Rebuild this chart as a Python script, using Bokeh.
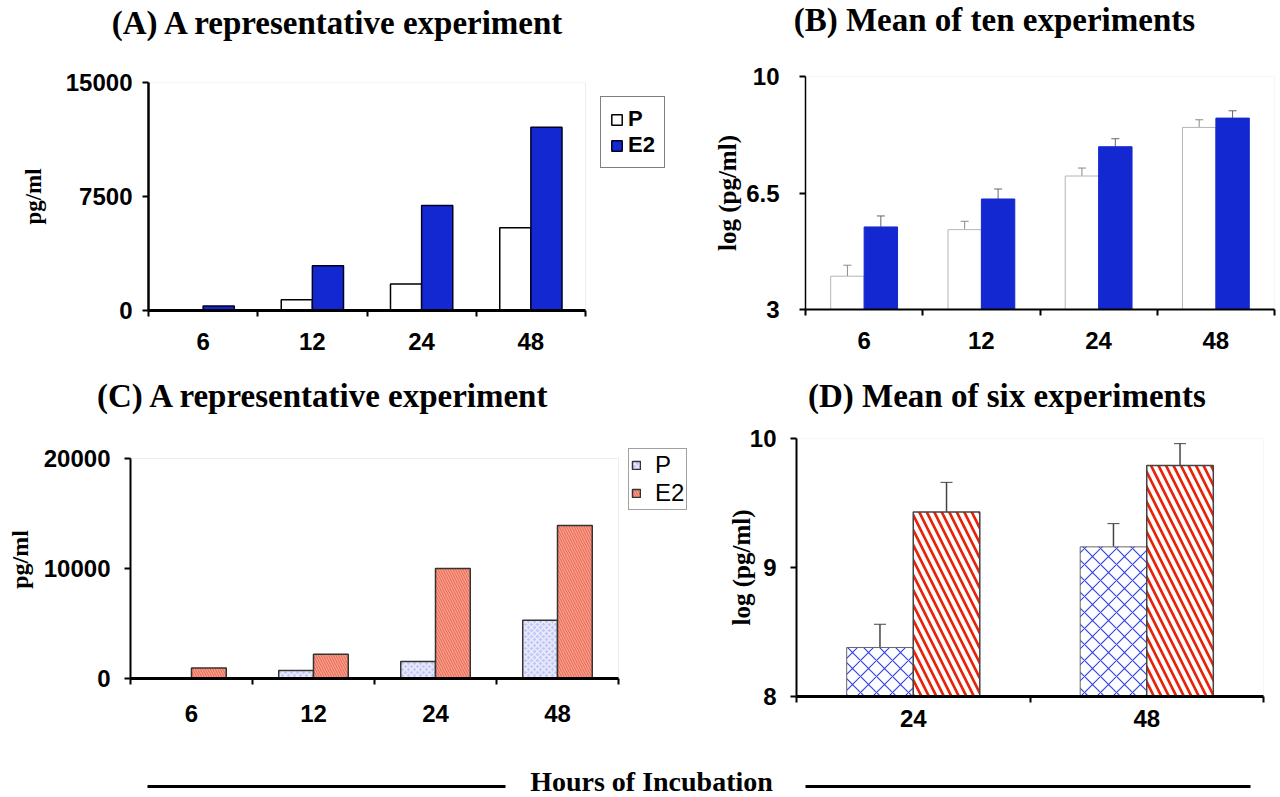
import numpy as np
from bokeh.plotting import figure
from bokeh.models import (Range1d, FixedTicker, CustomJSTickFormatter, Legend, LegendItem,
                          Label, Whisker, TeeHead, ColumnDataSource, BoxAnnotation)
from bokeh.layouts import row, column
from bokeh.embed import file_html
from bokeh.resources import INLINE

# ---------------- data ----------------
hours = ["6", "12", "24", "48"]
a_p = [0, 700, 1750, 5450]
a_e2 = [300, 2950, 6900, 12050]

b_p = [4.00, 5.40, 7.01, 8.47]
b_p_err = [0.33, 0.25, 0.24, 0.23]
b_e2 = [5.48, 6.32, 7.89, 8.75]
b_e2_err = [0.33, 0.30, 0.24, 0.22]

c_p = [0, 730, 1550, 5300]
c_e2 = [950, 2200, 10000, 13900]

d_hours = ["24", "48"]
d_p = [8.38, 9.16]
d_p_err = [0.18, 0.18]
d_e2 = [9.43, 9.79]
d_e2_err = [0.23, 0.17]

a_ticks = [0, 7500, 15000]
b_ticks = [3, 6.5, 10]
c_ticks = [0, 10000, 20000]
d_ticks = [8, 9, 10]

series = ["P", "E2"]
titles = ["(A)  A representative experiment", "(B)  Mean of ten experiments",
          "(C) A representative experiment", "(D)  Mean of six experiments"]
x_caption = "Hours of Incubation"

SANS = "Liberation Sans"
SERIF = "Liberation Serif"
BAR_W = 0.285
BLUE = "#1428d2"


def make_panel(width, height, left, right, top, bottom, cats, y0, y1, yticks,
               y_w, x_w, y_standoff, x_standoff, ylabel, ylabel_size, ylabel_standoff,
               box_right=None, box_top=None):
    """box_right / box_top: pixel edges of the drawn plot box when the frame is
    made larger than the box (room for a legend inside the frame)."""
    n = len(cats)
    frame_l, frame_r = left, width - right
    frame_t, frame_b = top, height - bottom
    x_end = n
    if box_right is not None:
        x_end = n * (frame_r - frame_l) / (box_right - frame_l)
    y_end = y1
    if box_top is not None:
        y_end = y0 + (y1 - y0) * (frame_b - frame_t) / (frame_b - box_top)
    p = figure(width=width, height=height, x_range=Range1d(0, x_end),
               y_range=Range1d(y0, y_end),
               toolbar_location=None, output_backend="svg",
               min_border_left=left, min_border_right=right,
               min_border_top=top, min_border_bottom=bottom)
    p.frame_align = False
    p.grid.visible = False
    p.outline_line_color = None
    p.add_layout(BoxAnnotation(left=0, right=n, bottom=y0, top=y1, fill_color=None,
                               fill_alpha=0, line_color="#c4c4c4", line_width=1,
                               level="underlay"))
    centers = [i + 0.5 for i in range(n)]
    bounds = list(range(n + 1))
    xa = p.xaxis[0]
    xa.bounds = (0, n)
    xa.ticker = FixedTicker(ticks=centers, minor_ticks=bounds)
    xa.formatter = CustomJSTickFormatter(args=dict(labels=cats),
                                         code="return labels[Math.floor(tick)];")
    xa.major_tick_out = 0
    xa.major_tick_in = 0
    xa.minor_tick_out = 6
    xa.minor_tick_in = 0
    xa.minor_tick_line_color = "black"
    xa.minor_tick_line_width = 2
    xa.axis_line_width = x_w
    xa.axis_line_color = "black"
    xa.major_label_standoff = x_standoff
    ya = p.yaxis[0]
    ya.bounds = (y0, y1)
    ya.ticker = FixedTicker(ticks=yticks)
    ya.formatter = CustomJSTickFormatter(code="return tick.toString();")
    ya.minor_tick_line_color = None
    ya.major_tick_out = 6
    ya.major_tick_in = 0
    ya.major_tick_line_width = 2
    ya.major_tick_line_color = "black"
    ya.axis_line_width = y_w
    ya.axis_line_color = "black"
    ya.major_label_standoff = y_standoff
    ya.axis_label = ylabel
    ya.axis_label_text_font = SERIF
    ya.axis_label_text_font_style = "bold"
    ya.axis_label_text_font_size = ylabel_size
    ya.axis_label_text_color = "black"
    ya.axis_label_standoff = ylabel_standoff
    for ax in (xa, ya):
        ax.major_label_text_font = SANS
        ax.major_label_text_font_style = "bold"
        ax.major_label_text_font_size = "24px"
        ax.major_label_text_color = "black"
    return p


def text_strip(height, items, size):
    """A full-width strip whose frame is the whole strip, for titles / captions."""
    s = figure(width=1280, height=height, x_range=Range1d(0, 1280), y_range=Range1d(0, height),
               toolbar_location=None, output_backend="svg", min_border=0,
               x_axis_location=None, y_axis_location=None)
    s.frame_align = False
    s.grid.visible = False
    s.outline_line_color = None
    for x, y, t in items:
        s.add_layout(Label(x=x, y=y, text=t, text_font=SERIF, text_font_style="bold",
                           text_font_size=size, text_align="center",
                           text_baseline="middle", text_color="black"))
    return s


def sources(vals_p, vals_e, err_p=None, err_e=None):
    idx = np.arange(len(vals_p))
    d = dict(xp=idx + 0.5 - BAR_W / 2, xe=idx + 0.5 + BAR_W / 2,
             p=vals_p, e=vals_e)
    if err_p is not None:
        d["p_up"] = np.array(vals_p) + np.array(err_p)
        d["e_up"] = np.array(vals_e) + np.array(err_e)
    return ColumnDataSource(d)


# ---------------- titles ----------------
T1, T2 = 44, 50
title_row1 = text_strip(T1, [(342.5, T1 - 22, titles[0]), (998, T1 - 19, titles[1])], "33px")
title_row2 = text_strip(T2, [(323.5, T2 - 25, titles[2]), (1010.5, T2 - 25, titles[3])], "33px")

# ---------------- Panel A ----------------
pa = make_panel(680, 370 - T1, 148, 5, 82 - T1, 60, hours, 0, 15000, a_ticks, 2.5, 3, 10, 16,
                "pg/ml", "23px", 17, box_right=585)
sa = sources(a_p, a_e2)
ra_p = pa.vbar(x="xp", top="p", bottom=0, width=BAR_W, source=sa,
               fill_color="white", line_color="black", line_width=1.5)
ra_e = pa.vbar(x="xe", top="e", bottom=0, width=BAR_W, source=sa,
               fill_color=BLUE, line_color="#000022", line_width=1.5)
leg_a = Legend(items=[LegendItem(label=series[0], renderers=[ra_p]),
                      LegendItem(label=series[1], renderers=[ra_e])],
               location=(452, 142), margin=0, padding=9, spacing=0,
               glyph_width=13, glyph_height=13, label_height=25, label_standoff=5,
               label_text_font=SANS, label_text_font_style="bold",
               label_text_font_size="22px", label_text_color="black",
               border_line_color="black", border_line_width=1.5,
               background_fill_color="white", background_fill_alpha=1.0)
pa.add_layout(leg_a)

# ---------------- Panel B ----------------
pb = make_panel(600, 370 - T1, 125, 6, 76 - T1, 61, hours, 3, 10, b_ticks, 1.5, 2, 20, 16,
                "log (pg/ml)", "25px", 2)
sb = sources(b_p, b_e2, b_p_err, b_e2_err)
pb.vbar(x="xp", top="p", bottom=3, width=BAR_W, source=sb,
        fill_color="white", line_color="#b5b5b5", line_width=1)
pb.vbar(x="xe", top="e", bottom=3, width=BAR_W, source=sb,
        fill_color=BLUE, line_color=BLUE, line_width=1)
pb.add_layout(Whisker(source=sb, base="xp", lower="p", upper="p_up", lower_head=None,
                      upper_head=TeeHead(size=8, line_color="#8a8a8a", line_width=1),
                      line_color="#8a8a8a", line_width=1))
pb.add_layout(Whisker(source=sb, base="xe", lower="e", upper="e_up", lower_head=None,
                      upper_head=TeeHead(size=8, line_color="#666666", line_width=1),
                      line_color="#666666", line_width=1))

# ---------------- Panel C ----------------
pc = make_panel(700, 370 - T2, 130, 4, 70 - T2, 62, hours, 0, 20000, c_ticks, 2, 3, 14, 20,
                "pg/ml", "24px", 8, box_right=618, box_top=88 - T2)
sc = sources(c_p, c_e2)
rc_p = pc.vbar(x="xp", top="p", bottom=0, width=BAR_W, source=sc,
               fill_color="#c3c8f4", hatch_pattern="diagonal_cross",
               hatch_color="#eceefd", hatch_scale=6, hatch_weight=1.5,
               line_color="#333333", line_width=1.5)
rc_e = pc.vbar(x="xe", top="e", bottom=0, width=BAR_W, source=sc,
               fill_color="#ee6b55", hatch_pattern="left_diagonal_line",
               hatch_color="#f6a493", hatch_scale=5, hatch_weight=1.2,
               line_color="#333333", line_width=1.5)
leg_c = Legend(items=[LegendItem(label=series[0], renderers=[rc_p]),
                      LegendItem(label=series[1], renderers=[rc_e])],
               location=(498, 168), margin=0, padding=2, spacing=-1,
               glyph_width=10, glyph_height=10, label_height=24, label_standoff=14,
               label_text_font=SANS, label_text_font_size="24px",
               label_text_color="black",
               border_line_color="#444444", border_line_width=1,
               background_fill_color="white", background_fill_alpha=1.0)
pc.add_layout(leg_c)

# ---------------- Panel D ----------------
pd_ = make_panel(580, 370 - T2, 96, 17, 68 - T2, 44, d_hours, 8, 10, d_ticks, 2, 3, 14, 7,
                 "log (pg/ml)", "25px", -8)
sd = sources(d_p, d_e2, d_p_err, d_e2_err)
pd_.vbar(x="xp", top="p", bottom=8, width=BAR_W, source=sd,
         fill_color="white", hatch_pattern="diagonal_cross", hatch_color="#3346e6",
         hatch_scale=16, hatch_weight=1.2, line_color="#666666", line_width=1)
pd_.vbar(x="xe", top="e", bottom=8, width=BAR_W, source=sd,
         fill_color="#e8230a", hatch_pattern="left_diagonal_line", hatch_color="white",
         hatch_scale=15, hatch_weight=4, line_color="#444444", line_width=1.5)
for base, lo, up in (("xp", "p", "p_up"), ("xe", "e", "e_up")):
    pd_.add_layout(Whisker(source=sd, base=base, lower=lo, upper=up, lower_head=None,
                           upper_head=TeeHead(size=12, line_color="#444444", line_width=1),
                           line_color="#444444", line_width=1.5))

# ---------------- bottom caption ----------------
pbot = text_strip(57, [(651, 16, x_caption)], "28px")
rule_x0 = [147, 805]
rule_x1 = [505, 1250]
rule_y = 11
pbot.segment(x0=rule_x0, y0=rule_y, x1=rule_x1, y1=rule_y, line_width=3, line_color="black")

layout = column(title_row1, row(pa, pb), title_row2, row(pc, pd_), pbot)
open("out.html", "w").write(file_html(layout, INLINE))
